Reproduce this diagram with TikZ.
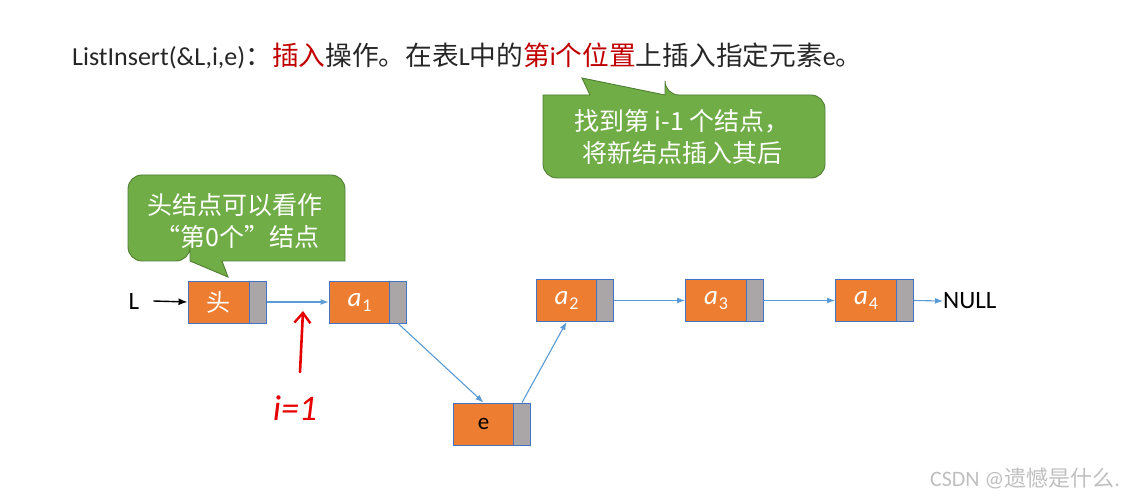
\documentclass[tikz,border=0pt]{standalone}
\usepackage{fontspec}
\setmainfont{Carlito}
\newfontfamily\cjk{Noto Sans CJK SC}
\usetikzlibrary{arrows.meta}
\definecolor{cellorange}{RGB}{237,125,49}
\definecolor{cellgray}{RGB}{170,166,168}
\definecolor{cellborder}{RGB}{68,114,196}
\definecolor{linkblue}{RGB}{91,155,213}
\definecolor{calloutgreen}{RGB}{112,173,71}
\definecolor{calloutedge}{RGB}{80,126,50}
\definecolor{titlered}{RGB}{192,0,0}
\definecolor{titletext}{RGB}{38,38,38}
\definecolor{handred}{RGB}{230,0,0}
\newcommand\elemname[1]{\textit{a}\kern1pt\raisebox{-5pt}{\fontsize{18}{18}\selectfont #1}}
\newcommand\cjkt[1]{{\cjk\fontsize{26.7}{30}\selectfont #1}}
\tikzset{
  datacell/.style={draw=cellborder, fill=cellorange, minimum width=61pt, minimum height=42pt, inner sep=0pt, line width=0.9pt, text=white},
  ptrcell/.style={draw=cellborder, fill=cellgray, minimum width=17pt, minimum height=42pt, inner sep=0pt, line width=0.9pt},
  link/.style={draw=linkblue, line width=1.1pt, -{Latex[length=8pt,width=6pt]}},
  callout/.style={fill=calloutgreen, draw=calloutedge, line width=0.9pt},
  callouttext/.style={text=white, font=\cjk\fontsize{25}{32}\selectfont, align=center, inner sep=0pt},
  celltext/.style={font=\fontsize{27}{27}\selectfont},
}
\begin{document}
\begin{tikzpicture}[x=1pt,y=-1pt]
\useasboundingbox (0,0) rectangle (1128,497);
% title
\node[anchor=base west, inner sep=0pt, text=titletext, font=\fontsize{26}{30}\selectfont] (title) at (72,66)
  {ListInsert(\&L,i,e)\cjkt{：}\textcolor{titlered}{\cjkt{插入}}\cjkt{操作。在表}L\cjkt{中的}\textcolor{titlered}{\cjkt{第}i\cjkt{个位置}}\cjkt{上插入指定元素}e\cjkt{。}};
% callout 2
\draw[callout] (665,95) -- (582,78) -- (590,95) -- (543,95) [rounded corners=14pt] -- (543,178) -- (825,178) -- (825,95) -- (665,95) [sharp corners] -- cycle;
\node[callouttext] (c2) at (682,137) {找到第 i-1 个结点，\\将新结点插入其后};
% callout 1
\draw[callout] (190,261) -- (228,277) -- (222,261) -- (345,261) [rounded corners=14pt] -- (345,175) -- (128,175) -- (128,261) -- (190,261) [sharp corners] -- cycle;
\node[callouttext] (c1) at (235,221) {头结点可以看作\\\,“第0个”结点};
% nodes
\node[datacell, font=\cjk\fontsize{24}{24}\selectfont] (h) at (218.5,302) {头};
\node[ptrcell] (hp) at (258,302) {};
\node[datacell, celltext] (a1) at (359.5,302) {\elemname{1}};
\node[ptrcell] (a1p) at (398,302) {};
\node[datacell, text=black, font=\fontsize{23}{23}\selectfont] (e) at (483.5,424) {e};
\node[ptrcell] (ep) at (522,424) {};
\node[datacell, celltext] (a2) at (566.5,300.5) {\elemname{2}};
\node[ptrcell] (a2p) at (605,300.5) {};
\node[datacell, celltext] (a3) at (716,300.5) {\elemname{3}};
\node[ptrcell] (a3p) at (754.5,300.5) {};
\node[datacell, celltext] (a4) at (866,300.5) {\elemname{4}};
\node[ptrcell] (a4p) at (904.5,300.5) {};
\node[anchor=west, inner sep=0pt, font=\fontsize{25}{25}\selectfont] (null) at (943,301) {NULL};
\node[inner sep=0pt, font=\fontsize{25}{25}\selectfont] (L) at (134,301) {L};
% links
\draw[line width=1.4pt, -{Latex[length=9pt,width=7pt]}] (L.east) ++(14,0) coordinate (Ls) (Ls) -- (h.west);
\draw[link] (hp.east) -- (a1.west);
\draw[link] (a1p.south) -- (e.north);
\draw[link] (ep.north) -- (a2.south);
\draw[link] (a2p.east) -- (a3.west);
\draw[link] (a3p.east) -- (a4.west);
\draw[link] (a4p.east) -- (null.west);
% handwritten note
\coordinate (rs) at (300,372);
\coordinate (rt) at (303,311);
\draw[handred, line width=2.6pt, line cap=round, -{Straight Barb[length=10pt,width=16pt,line width=2.4pt]}] (rs) -- (rt);
\node[text=handred, font=\fontsize{36}{36}\selectfont\itshape] (ieq) at (295,408) {i=1};
% watermark
\node[anchor=east, inner sep=0pt, text=black!25, font=\fontsize{22}{22}\selectfont] (wm) at (1120,478) {CSDN @{\cjk 遗憾是什么}.};
\end{tikzpicture}
\end{document}
